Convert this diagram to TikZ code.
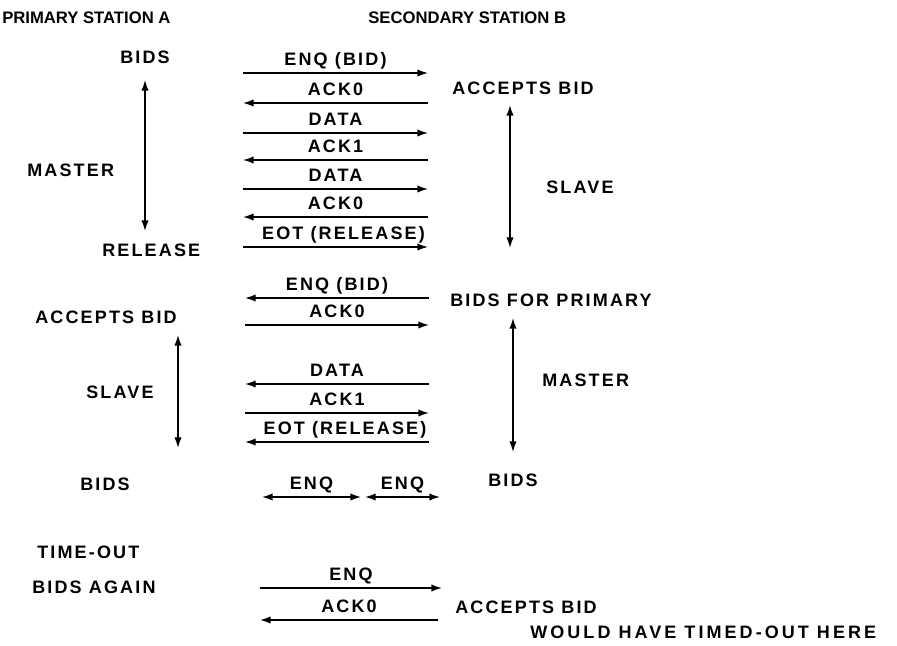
\documentclass[tikz,border=0pt]{standalone}
\usepackage{fontspec}
\setmainfont{Liberation Sans}
\newfontfamily\labfont[LetterSpace=12]{Liberation Sans}
\newfontfamily\widefont[LetterSpace=17]{Liberation Sans}
\usetikzlibrary{arrows.meta}
\begin{document}
\begin{tikzpicture}[x=0.75pt,y=-0.75pt,
  txt/.style={font=\labfont\bfseries\fontsize{13.5}{15}\selectfont, inner sep=0pt, anchor=base west},
  head/.style={font=\bfseries\fontsize{12.5}{15}\selectfont, inner sep=0pt, anchor=base west},
  lbl/.style={font=\labfont\bfseries\fontsize{13.5}{15}\selectfont, inner sep=0pt, anchor=base, midway, yshift=5.5pt},
  tip/.tip={Latex[length=8pt,width=5.5pt]},
  msg/.style={line width=1.1pt, -tip},
  both/.style={line width=1.1pt, tip-tip}]
\fill[white] (0,0) rectangle (897,646);
\useasboundingbox (0,0) rectangle (897,646);

% headers
\node[head] (hA) at (2,23) {PRIMARY STATION A};
\node[head] (hB) at (368,23) {SECONDARY STATION B};

% station labels
\node[txt] (bidsA1) at (120,63) {BIDS};
\node[txt] (accB1) at (452,94) {ACCEPTS BID};
\node[txt] (masterA) at (27,176) {MASTER};
\node[txt] (slaveB) at (546,193) {SLAVE};
\node[txt] (releaseA) at (102,256) {RELEASE};
\node[txt] (bidsB1) at (450,306) {BIDS FOR PRIMARY};
\node[txt] (accA) at (35,323) {ACCEPTS BID};
\node[txt] (slaveA) at (86,398) {SLAVE};
\node[txt] (masterB) at (542,386) {MASTER};
\node[txt] (bidsA2) at (80,490) {BIDS};
\node[txt] (bidsB2) at (488,486) {BIDS};
\node[txt] (timeout) at (37,558) {TIME-OUT};
\node[txt] (again) at (32,593) {BIDS AGAIN};
\node[txt] (accB2) at (455,613) {ACCEPTS BID};
\node[txt, font=\widefont\bfseries\fontsize{13.5}{15}\selectfont] (would) at (530,638) {WOULD HAVE TIMED-OUT HERE};

% message end points
\coordinate (a1) at (243,73);  \coordinate (b1) at (428,73);
\coordinate (a2) at (243,103); \coordinate (b2) at (428,103);
\coordinate (a3) at (243,133); \coordinate (b3) at (428,133);
\coordinate (a4) at (243,160); \coordinate (b4) at (428,160);
\coordinate (a5) at (243,189); \coordinate (b5) at (428,189);
\coordinate (a6) at (243,217); \coordinate (b6) at (428,217);
\coordinate (a7) at (243,247); \coordinate (b7) at (428,247);
\coordinate (a8) at (245,298); \coordinate (b8) at (429,298);
\coordinate (a9) at (245,325); \coordinate (b9) at (429,325);
\coordinate (a10) at (245,384); \coordinate (b10) at (429,384);
\coordinate (a11) at (245,413); \coordinate (b11) at (429,413);
\coordinate (a12) at (245,442); \coordinate (b12) at (429,442);
\coordinate (a13) at (262,497); \coordinate (m13) at (361,497);
\coordinate (m14) at (365,497); \coordinate (b14) at (440,497);
\coordinate (a15) at (260,588); \coordinate (b15) at (442,588);
\coordinate (a16) at (260,620); \coordinate (b16) at (438,620);

% messages
\draw[msg] (a1) -- node[lbl] {ENQ (BID)} (b1);
\draw[msg] (b2) -- node[lbl] {ACK0} (a2);
\draw[msg] (a3) -- node[lbl] {DATA} (b3);
\draw[msg] (b4) -- node[lbl] {ACK1} (a4);
\draw[msg] (a5) -- node[lbl] {DATA} (b5);
\draw[msg] (b6) -- node[lbl] {ACK0} (a6);
\draw[msg] (a7) -- node[lbl, xshift=6pt] {EOT (RELEASE)} (b7);
\draw[msg] (b8) -- node[lbl] {ENQ (BID)} (a8);
\draw[msg] (a9) -- node[lbl] {ACK0} (b9);
\draw[msg] (b10) -- node[lbl] {DATA} (a10);
\draw[msg] (a11) -- node[lbl] {ACK1} (b11);
\draw[msg] (b12) -- node[lbl, xshift=6pt] {EOT (RELEASE)} (a12);
\draw[both] (a13) -- node[lbl] {ENQ} (m13);
\draw[both] (m14) -- node[lbl] {ENQ} (b14);
\draw[msg] (a15) -- node[lbl] {ENQ} (b15);
\draw[msg] (b16) -- node[lbl] {ACK0} (a16);

% state spans
\coordinate (l1t) at (145,80);  \coordinate (l1b) at (145,231);
\coordinate (r1t) at (510,105); \coordinate (r1b) at (510,248);
\coordinate (l2t) at (178,335); \coordinate (l2b) at (178,448);
\coordinate (r2t) at (513,318); \coordinate (r2b) at (513,452);
\draw[both] (l1t) -- (l1b);
\draw[both] (r1t) -- (r1b);
\draw[both] (l2t) -- (l2b);
\draw[both] (r2t) -- (r2b);
\end{tikzpicture}
\end{document}
